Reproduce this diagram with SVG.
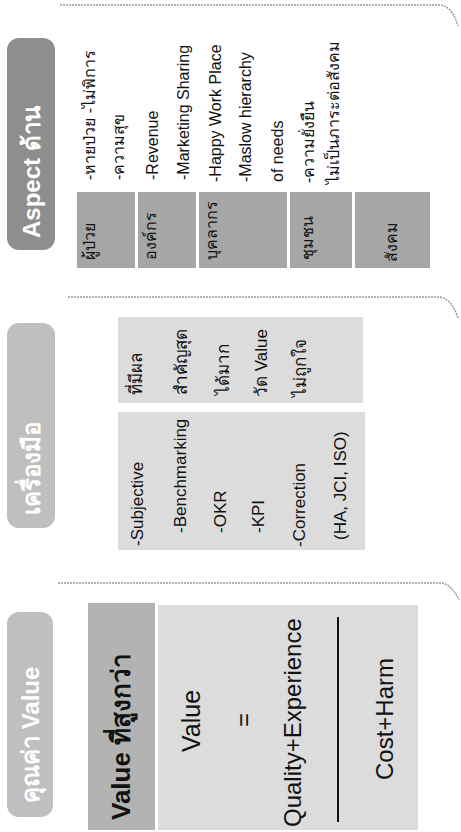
<svg xmlns="http://www.w3.org/2000/svg" width="461" height="832" viewBox="0 0 461 832">
<style>
  text { font-family: "Liberation Sans", "Noto Sans", "Noto Sans CJK SC", sans-serif; }
  .pill1 { fill: #bfbfbf; }
  .pill3 { fill: #8e8e8e; }
  .hd { fill: #ffffff; font-size: 24px; font-weight: bold; }
  .box { fill: #dcdcdc; }
  .mid { fill: #b3b3b3; }
  .cell { fill: #a6a6a6; }
  .t { fill: #111111; font-size: 17px; }
  .s { fill: #111111; font-size: 16px; }
  .sep { fill: none; stroke: #9a9a9a; stroke-width: 1.5; stroke-dasharray: 2 1; }
</style>
<rect width="461" height="832" fill="#ffffff"/>

<g id="separators">
  <path class="sep" d="M60 5 L440 5 Q452 6 458 26"/>
  <path class="sep" d="M68 297 L440 297 Q452 299 458 318"/>
  <path class="sep" d="M58 583 L442 583 Q452 585 459 600"/>
</g>

<!-- Panel 3 : Aspect -->
<g id="aspect-header">
  <rect class="pill3" x="7" y="38" width="48" height="212" rx="12"/>
  <text class="hd" transform="translate(40 238) rotate(-90)">Aspect ด้าน</text>
</g>
<g id="aspect-cells">
  <rect class="cell" x="77" y="192" width="58" height="76"/>
  <rect class="cell" x="138" y="192" width="58" height="76"/>
  <rect class="cell" x="199" y="192" width="88" height="76"/>
  <rect class="cell" x="290" y="192" width="62" height="76"/>
  <rect class="cell" x="355" y="192" width="75" height="76"/>
  <text class="s" transform="translate(95 260) rotate(-90)">ผู้ป่วย</text>
  <text class="s" transform="translate(156 260) rotate(-90)">องค์กร</text>
  <text class="s" transform="translate(217 260) rotate(-90)">บุคลากร</text>
  <text class="s" transform="translate(313 260) rotate(-90)">ชุมชน</text>
  <text class="s" transform="translate(397 262) rotate(-90)">สังคม</text>
</g>
<g id="aspect-items">
  <text class="s" transform="translate(95 180) rotate(-90)">-หายป่วย -ไม่พิการ</text>
  <text class="s" transform="translate(124 180) rotate(-90)">-ความสุข</text>
  <text class="s" transform="translate(158 180) rotate(-90)">-Revenue</text>
  <text class="s" transform="translate(189 180) rotate(-90)">-Marketing Sharing</text>
  <text class="s" transform="translate(221 182) rotate(-90)">-Happy Work Place</text>
  <text class="s" transform="translate(251 182) rotate(-90)">-Maslow hierarchy</text>
  <text class="s" transform="translate(283 182) rotate(-90)">of needs</text>
  <text class="s" transform="translate(314 183) rotate(-90)">-ความยั่งยืน</text>
  <text class="s" transform="translate(339 184) rotate(-90)">ไม่เป็นภาระต่อสังคม</text>
</g>

<!-- Panel 2 : Tools -->
<g id="tools-header">
  <rect class="pill1" x="7" y="323" width="48" height="205" rx="12"/>
  <text class="hd" transform="translate(40 515) rotate(-90)">เครื่องมือ</text>
</g>
<g id="tools-right">
  <rect class="box" x="118" y="317" width="245" height="86"/>
  <text class="t" transform="translate(142 395) rotate(-90)">ที่มีผล</text>
  <text class="t" transform="translate(187 395) rotate(-90)">สำคัญสุด</text>
  <text class="t" transform="translate(229 395) rotate(-90)">ได้มาก</text>
  <text class="t" transform="translate(267 397) rotate(-90)">วัด Value</text>
  <text class="t" transform="translate(306 397) rotate(-90)">ไม่ถูกใจ</text>
</g>
<g id="tools-left">
  <rect class="box" x="118" y="412" width="247" height="138"/>
  <text class="t" transform="translate(143 546) rotate(-90)">-Subjective</text>
  <text class="t" transform="translate(186 533) rotate(-90)">-Benchmarking</text>
  <text class="t" transform="translate(226 533) rotate(-90)">-OKR</text>
  <text class="t" transform="translate(264 533) rotate(-90)">-KPI</text>
  <text class="t" transform="translate(305 547) rotate(-90)">-Correction</text>
  <text class="t" transform="translate(346 540) rotate(-90)">(HA, JCI, ISO)</text>
</g>

<!-- Panel 1 : Value -->
<g id="value-header">
  <rect class="pill1" x="7" y="612" width="46" height="205" rx="12"/>
  <text class="hd" transform="translate(39 803) rotate(-90)">คุณค่า Value</text>
</g>
<g id="value-title">
  <rect class="mid" x="88" y="603" width="67" height="227"/>
  <text transform="translate(130 820) rotate(-90)" font-size="26" font-weight="bold" fill="#111111">Value ที่สูงกว่า</text>
</g>
<g id="value-formula">
  <rect class="box" x="158" y="605" width="260" height="225"/>
  <text transform="translate(200 752) rotate(-90)" font-size="25" fill="#111111">Value</text>
  <text transform="translate(252 727) rotate(-90)" font-size="24" fill="#111111">=</text>
  <text transform="translate(301 827) rotate(-90)" font-size="24" fill="#111111">Quality+Experience</text>
  <line x1="338" y1="617" x2="338" y2="822" stroke="#111111" stroke-width="2"/>
  <text transform="translate(393 780) rotate(-90)" font-size="24" fill="#111111">Cost+Harm</text>
</g>
</svg>
